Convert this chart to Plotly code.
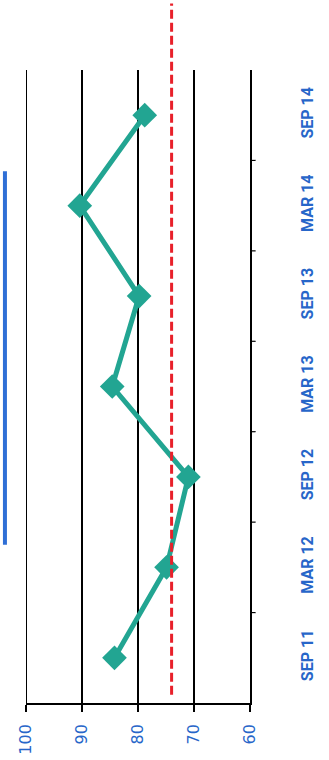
import plotly.graph_objects as go

# Half-yearly results, drawn with the value axis horizontal (rotated layout)
periods = ["SEP 11", "MAR 12", "SEP 12", "MAR 13", "SEP 13", "MAR 14", "SEP 14"]
scores = [84.2, 74.9, 71.0, 84.6, 79.8, 90.4, 78.8]
target = 74
value_ticks = [60, 70, 80, 90, 100]

BLUE = "#2766c9"
TEAL = "#22a592"
RED = "#e8202a"

fig = go.Figure()

fig.add_trace(go.Scatter(
    x=scores,
    y=list(range(len(periods))),
    mode="lines+markers",
    line=dict(color=TEAL, width=5),
    marker=dict(symbol="diamond", size=19, color=TEAL),
    hoverinfo="skip",
    showlegend=False,
))

# Gridline at the upper end of the value axis (sits on the plot edge)
fig.add_shape(
    type="line", xref="x", yref="paper",
    x0=value_ticks[-1], x1=value_ticks[-1], y0=0, y1=1,
    line=dict(color="black", width=2),
)

# Target line (dashed red), running past the top of the plot
fig.add_shape(
    type="line", xref="x", yref="paper",
    x0=target, x1=target, y0=0.013, y1=1.105,
    line=dict(color=RED, width=3, dash="9px,4px"),
    layer="above",
)

# Title underline at the left edge
fig.add_shape(
    type="line", xref="paper", yref="paper",
    x0=-0.094, x1=-0.094, y0=0.25, y1=0.84,
    line=dict(color="#2f6fd6", width=4),
)

fig.update_layout(
    width=329, height=760,
    margin=dict(l=26, r=79, t=70, b=57, autoexpand=False),
    paper_bgcolor="white",
    plot_bgcolor="white",
    xaxis=dict(
        range=[100, 60],
        tickvals=value_ticks,
        ticktext=[str(v) for v in value_ticks],
        showgrid=True, gridcolor="black", gridwidth=1.5,
        zeroline=False,
        showline=True, linecolor="black", linewidth=1.5,
        ticks="outside", ticklen=7, tickcolor="black", tickwidth=1.5,
        tickangle=-90,
        ticklabelstandoff=6,
        automargin=False,
        tickfont=dict(family="DejaVu Sans", size=16, color=BLUE),
    ),
    yaxis=dict(
        range=[-0.5, len(periods) - 0.5],
        tickmode="array",
        tickvals=list(range(len(periods))),
        ticktext=periods,
        side="right",
        showgrid=False, zeroline=False,
        showline=True, linecolor="black", linewidth=1.5,
        ticks="",
        tickangle=-90,
        ticklabelstandoff=42,
        automargin=False,
        tickfont=dict(family="Roboto", size=16, color=BLUE, weight="bold"),
    ),
)

# Category boundary ticks on the right-hand axis
for i in range(len(periods) - 1):
    fig.add_shape(
        type="line", xref="paper", yref="y",
        x0=1.0, x1=1.025, y0=i + 0.5, y1=i + 0.5,
        line=dict(color="black", width=1.2),
    )

fig.write_html("out.html")
